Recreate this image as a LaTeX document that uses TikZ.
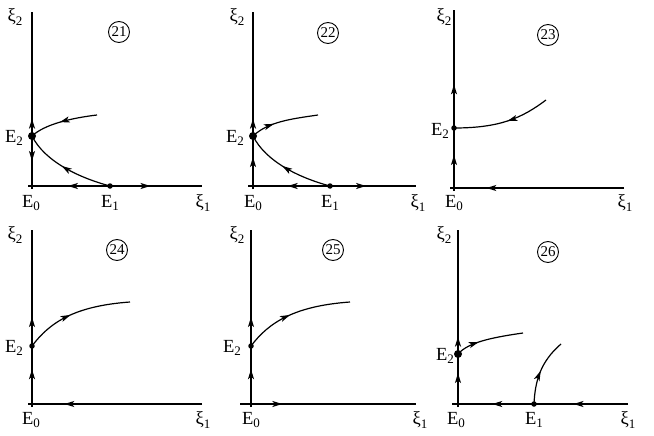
\documentclass[tikz,border=0pt]{standalone}
\usepackage{fontspec}
\setmainfont{Liberation Serif}
\usetikzlibrary{arrows.meta,decorations.markings}
\newcommand\lsub[1]{\raisebox{-0.45ex}{\fontsize{13}{13}\selectfont #1}}
\tikzset{
  >={Stealth[length=10pt,width=6pt,inset=2.5pt]},
  axis/.style={line width=1.4pt},
  traj/.style={line width=1.2pt},
  fw/.style={postaction={decorate,decoration={markings,mark=at position #1 with {\arrow{>}}}}},
  lbl/.style={font=\fontsize{18.5}{20}\selectfont, inner sep=0pt},
  num/.style={draw, circle, line width=0.9pt, minimum size=21pt, inner sep=0pt, font=\fontsize{15}{15}\selectfont},
  bigdot/.style={circle, fill, inner sep=0pt, minimum size=8pt},
  smalldot/.style={circle, fill, inner sep=0pt, minimum size=5.5pt}
}
\begin{document}
\begin{tikzpicture}[x=1pt,y=-1pt]
\useasboundingbox (0,0) rectangle (654,436);
% ---------------- Panel 21
\coordinate (a-top) at (32,12);
\coordinate (a-O) at (32,186);
\coordinate (a-bot) at (32,189);
\coordinate (a-xs) at (28,186);
\coordinate (a-xe) at (202,186);
\coordinate (a-c1) at (97,115);
\node[bigdot] (a-E2) at (32,136) {};
\node[smalldot] (a-E1) at (110,186) {};
\draw[axis] (a-bot) -- (a-O);
\draw[axis,fw=0.14] (a-E2.center) -- (a-top);
\draw[axis,fw=0.5] (a-E2.center) -- (a-O);
\draw[axis] (a-xs) -- (a-O);
\draw[axis,fw=0.54] (a-E1.center) -- (a-O);
\draw[axis,fw=0.44] (a-E1.center) -- (a-xe);
\draw[traj,fw=0.55] (a-c1) .. controls (72,118) and (45,124) .. (a-E2.center);
\draw[traj,fw=0.55] (a-E1.center) .. controls (80,178) and (45,162) .. (a-E2.center);
\node[lbl] (a-xi2) at (15,17) {ξ\lsub{2}};
\node[num] (a-n) at (119,32) {21};
\node[lbl] (a-lE2) at (14,138) {E\lsub{2}};
\node[lbl] (a-lE0) at (31,203) {E\lsub{0}};
\node[lbl] (a-lE1) at (110,203) {E\lsub{1}};
\node[lbl] (a-xi1) at (203,203) {ξ\lsub{1}};
% ---------------- Panel 22
\coordinate (b-top) at (253,12);
\coordinate (b-O) at (253,186);
\coordinate (b-bot) at (253,189);
\coordinate (b-xs) at (248,186);
\coordinate (b-xe) at (416,186);
\coordinate (b-c1) at (318,115);
\node[bigdot] (b-E2) at (253,136) {};
\node[smalldot] (b-E1) at (330,186) {};
\draw[axis] (b-bot) -- (b-O);
\draw[axis,fw=0.14] (b-E2.center) -- (b-top);
\draw[axis,fw=0.58] (b-O) -- (b-E2.center);
\draw[axis] (b-xs) -- (b-O);
\draw[axis,fw=0.55] (b-E1.center) -- (b-O);
\draw[axis,fw=0.42] (b-E1.center) -- (b-xe);
\draw[traj,fw=0.35] (b-E2.center) .. controls (268,122) and (290,119) .. (b-c1);
\draw[traj,fw=0.55] (b-E1.center) .. controls (300,178) and (266,162) .. (b-E2.center);
\node[lbl] (b-xi2) at (237,17) {ξ\lsub{2}};
\node[num] (b-n) at (328,33) {22};
\node[lbl] (b-lE2) at (235,138) {E\lsub{2}};
\node[lbl] (b-lE0) at (253,203) {E\lsub{0}};
\node[lbl] (b-lE1) at (330,203) {E\lsub{1}};
\node[lbl] (b-xi1) at (418,203) {ξ\lsub{1}};
% ---------------- Panel 23
\coordinate (c-top) at (454,10);
\coordinate (c-O) at (454,188);
\coordinate (c-bot) at (454,191);
\coordinate (c-xs) at (450,188);
\coordinate (c-xe) at (624,188);
\coordinate (c-c1) at (546,100);
\node[smalldot] (c-E2) at (454,128) {};
\draw[axis] (c-bot) -- (c-O);
\draw[axis,fw=0.37] (c-E2.center) -- (c-top);
\draw[axis,fw=0.55] (c-O) -- (c-E2.center);
\draw[axis] (c-xs) -- (c-O);
\draw[axis,fw=0.81] (c-xe) -- (c-O);
\draw[traj,fw=0.45] (c-c1) .. controls (522,118) and (500,128) .. (c-E2.center);
\node[lbl] (c-xi2) at (444,17) {ξ\lsub{2}};
\node[num] (c-n) at (548,35) {23};
\node[lbl] (c-lE2) at (440,131) {E\lsub{2}};
\node[lbl] (c-lE0) at (454,203) {E\lsub{0}};
\node[lbl] (c-xi1) at (625,203) {ξ\lsub{1}};
% ---------------- Panel 24
\coordinate (d-top) at (32,230);
\coordinate (d-O) at (32,404);
\coordinate (d-bot) at (32,407);
\coordinate (d-xs) at (28,404);
\coordinate (d-xe) at (202,404);
\coordinate (d-c1) at (130,302);
\node[smalldot] (d-E2) at (32,346) {};
\draw[axis] (d-bot) -- (d-O);
\draw[axis,fw=0.25] (d-E2.center) -- (d-top);
\draw[axis,fw=0.6] (d-O) -- (d-E2.center);
\draw[axis] (d-xs) -- (d-O);
\draw[axis,fw=0.81] (d-xe) -- (d-O);
\draw[traj,fw=0.45] (d-E2.center) .. controls (50,322) and (75,306) .. (d-c1);
\node[lbl] (d-xi2) at (15,235) {ξ\lsub{2}};
\node[num] (d-n) at (117,250) {24};
\node[lbl] (d-lE2) at (14,348) {E\lsub{2}};
\node[lbl] (d-lE0) at (31,420) {E\lsub{0}};
\node[lbl] (d-xi1) at (203,420) {ξ\lsub{1}};
% ---------------- Panel 25
\coordinate (e-top) at (251,230);
\coordinate (e-O) at (251,404);
\coordinate (e-bot) at (251,407);
\coordinate (e-xs) at (240,404);
\coordinate (e-xe) at (416,404);
\coordinate (e-c1) at (350,302);
\node[smalldot] (e-E2) at (251,346) {};
\draw[axis] (e-bot) -- (e-O);
\draw[axis,fw=0.25] (e-E2.center) -- (e-top);
\draw[axis,fw=0.6] (e-O) -- (e-E2.center);
\draw[axis] (e-xs) -- (e-O);
\draw[axis,fw=0.19] (e-O) -- (e-xe);
\draw[traj,fw=0.45] (e-E2.center) .. controls (269,322) and (295,306) .. (e-c1);
\node[lbl] (e-xi2) at (237,235) {ξ\lsub{2}};
\node[num] (e-n) at (333,250) {25};
\node[lbl] (e-lE2) at (232,348) {E\lsub{2}};
\node[lbl] (e-lE0) at (251,420) {E\lsub{0}};
\node[lbl] (e-xi1) at (420,420) {ξ\lsub{1}};
% ---------------- Panel 26
\coordinate (f-top) at (458,230);
\coordinate (f-O) at (458,404);
\coordinate (f-bot) at (458,407);
\coordinate (f-xs) at (452,404);
\coordinate (f-xe) at (628,404);
\coordinate (f-c1) at (523,333);
\coordinate (f-c2) at (561,344);
\node[bigdot] (f-E2) at (458,354) {};
\node[smalldot] (f-E1) at (534,404) {};
\draw[axis] (f-bot) -- (f-O);
\draw[axis,fw=0.14] (f-E2.center) -- (f-top);
\draw[axis,fw=0.62] (f-O) -- (f-E2.center);
\draw[axis] (f-xs) -- (f-O);
\draw[axis,fw=0.55] (f-E1.center) -- (f-O);
\draw[axis,fw=0.58] (f-xe) -- (f-E1.center);
\draw[traj,fw=0.35] (f-E2.center) .. controls (468,343) and (488,338) .. (f-c1);
\draw[traj,fw=0.5] (f-E1.center) .. controls (535,382) and (540,362) .. (f-c2);
\node[lbl] (f-xi2) at (444,235) {ξ\lsub{2}};
\node[num] (f-n) at (548,252) {26};
\node[lbl] (f-lE2) at (445,356) {E\lsub{2}};
\node[lbl] (f-lE0) at (456,420) {E\lsub{0}};
\node[lbl] (f-lE1) at (534,420) {E\lsub{1}};
\node[lbl] (f-xi1) at (628,420) {ξ\lsub{1}};
\end{tikzpicture}
\end{document}
